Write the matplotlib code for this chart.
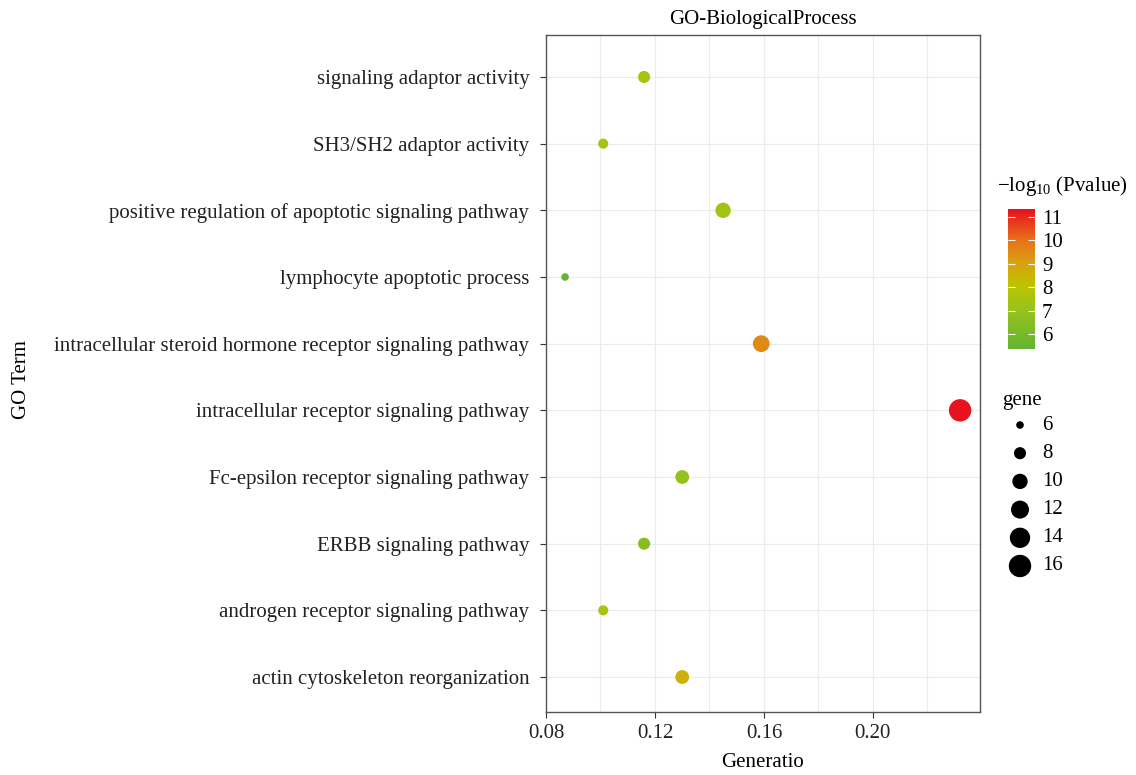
import matplotlib
matplotlib.use("Agg")
import matplotlib.pyplot as plt
import numpy as np
from matplotlib.colors import LinearSegmentedColormap, Normalize

plt.rcParams['font.family'] = ['Liberation Serif', 'DejaVu Serif']
plt.rcParams['mathtext.fontset'] = 'custom'
plt.rcParams['mathtext.rm'] = 'Liberation Serif'
plt.rcParams['mathtext.it'] = 'Liberation Serif:italic'

# ---- data (bottom to top) ----
terms = [
    "actin cytoskeleton reorganization",
    "androgen receptor signaling pathway",
    "ERBB signaling pathway",
    "Fc-epsilon receptor signaling pathway",
    "intracellular receptor signaling pathway",
    "intracellular steroid hormone receptor signaling pathway",
    "lymphocyte apoptotic process",
    "positive regulation of apoptotic signaling pathway",
    "SH3/SH2 adaptor activity",
    "signaling adaptor activity",
]
gene_ratio = [0.130, 0.101, 0.116, 0.130, 0.232, 0.159, 0.087, 0.145, 0.101, 0.116]
gene_count = [9, 7, 8, 9, 16, 11, 6, 10, 7, 8]
neglog_p = [8.6, 7.5, 6.5, 6.9, 11.3, 9.5, 5.5, 7.3, 7.4, 7.5]

size_legend = [6, 8, 10, 12, 14, 16]
cbar_ticks = [6, 7, 8, 9, 10, 11]
x_ticks = [0.08, 0.12, 0.16, 0.20]

W, H = 1136, 775
fig = plt.figure(figsize=(W / 100, H / 100), dpi=100)

def fx(px):
    return px / W

def fy(py):
    return 1 - py / H

cmap = LinearSegmentedColormap.from_list(
    "gyr",
    [(0.0, "#62b432"), (0.3, "#9cc31a"), (0.45, "#bcc400"),
     (0.62, "#d9a010"), (0.78, "#e8701a"), (1.0, "#e8101e")])
norm = Normalize(vmin=5.36, vmax=11.34)

def gsize(n):
    return 30 + 23.0 * (np.asarray(n, dtype=float) - 6)

FS = 15

ax = fig.add_axes([fx(546), fy(712), fx(980) - fx(546), fy(35) - fy(712)])
ypos = np.arange(len(terms))
sc = ax.scatter(gene_ratio, ypos, s=gsize(gene_count), c=neglog_p, cmap=cmap,
                norm=norm, edgecolors='none', zorder=3)
ax.set_xlim(0.08, 0.2393)
ax.set_ylim(-0.525, 9.63)
ax.set_yticks(ypos)
ax.set_yticklabels(terms, fontsize=FS)
ax.set_xticks(x_ticks)
ax.set_xticklabels([f"{t:.2f}" for t in x_ticks], fontsize=FS)
ax.set_xticks([0.10, 0.14, 0.18, 0.22], minor=True)
ax.grid(True, which='both', color='#ebebeb', linewidth=0.8, zorder=0)
ax.set_axisbelow(True)
ax.tick_params(axis='y', which='major', length=4, color='#333333', width=0.8,
               labelcolor='#222222', pad=8)
ax.tick_params(axis='x', which='major', length=4, color='#333333', width=0.8,
               labelcolor='#222222', pad=5)
ax.tick_params(axis='x', which='minor', length=0)
for s in ax.spines.values():
    s.set_color('#555555')
    s.set_linewidth(1.0)
ax.set_xlabel("Generatio", fontsize=FS, labelpad=7)
ax.set_ylabel("GO Term", fontsize=FS)
ax.yaxis.set_label_coords((31 - 546) / 434, (712 - 380) / 677)
ax.set_title("GO-BiologicalProcess", fontsize=FS, pad=8)

# colorbar
cax = fig.add_axes([fx(1008), fy(349), fx(27), fy(209) - fy(349)])
cb = fig.colorbar(sc, cax=cax)
cb.set_ticks(cbar_ticks)
cb.set_ticklabels([str(t) for t in cbar_ticks])
cb.outline.set_visible(False)
cax.tick_params(axis='y', which='both', direction='in', length=5, color='white',
                width=0.8, labelsize=FS, left=True, right=True, pad=5)
fig.text(fx(997), fy(186), r"$\mathregular{-log_{10}}$ (Pvalue)", fontsize=FS,
         va='center', ha='left')

# gene size legend
lax = fig.add_axes([fx(1000), fy(580), fx(136), fy(410) - fy(580)])
lax.set_xlim(1000, 1136)
lax.set_ylim(580, 410)
lax.axis('off')
leg_y = 425 + 28.2 * np.arange(len(size_legend))
lax.scatter(np.full(len(size_legend), 1020), leg_y, s=gsize(size_legend),
            color='black', edgecolors='none')
for yy, v in zip(leg_y, size_legend):
    lax.text(1042, yy, str(v), fontsize=FS, va='center', ha='left')
fig.text(fx(1002), fy(400), "gene", fontsize=FS, va='center', ha='left')

fig.savefig("out.png", dpi=100)
